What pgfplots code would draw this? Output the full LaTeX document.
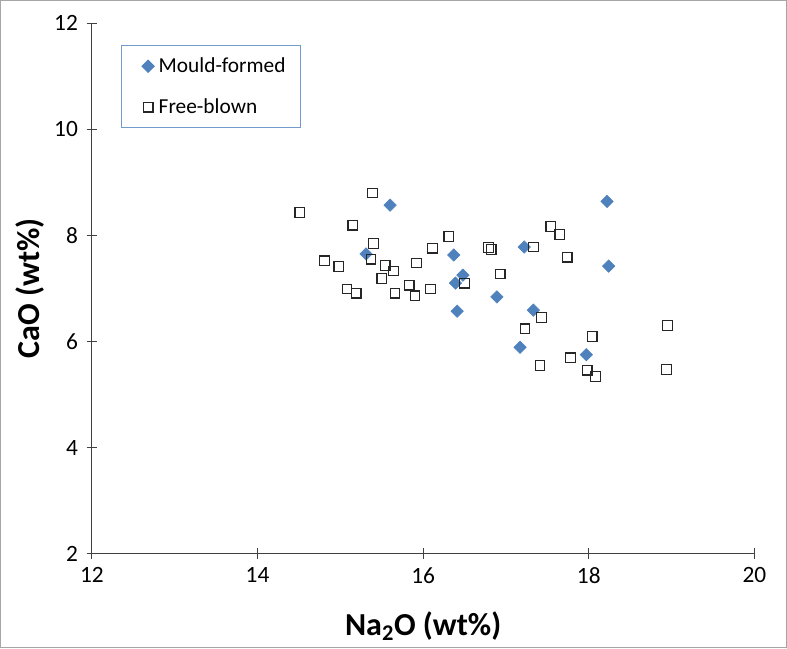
\documentclass[border=0pt]{standalone}
\usepackage{pgfplots}
\pgfplotsset{compat=1.18}
\usepackage{fontspec}
\setmainfont{Carlito}

\definecolor{mould}{RGB}{79,129,189}

\begin{document}
\begin{tikzpicture}
\begin{axis}[
    name=ax,
    scale only axis,
    width=496.5pt, height=397.5pt,
    xmin=12, xmax=20,
    ymin=2, ymax=12,
    xtick={12,14,...,20},
    ytick={2,4,...,12},
    axis x line=bottom,
    axis y line=left,
    axis line style={-, black!75, line width=0.8pt},
    tick style={black!75, line width=0.8pt},
    tick align=center,
    major tick length=8pt,
    minor tick num=0,
    /pgf/number format/assume math mode=true,
    ticklabel style={font=\fontsize{17.5}{20}\selectfont},
    xticklabel style={yshift=-3pt},
    yticklabel style={xshift=-3pt},
    xlabel={Na\textsubscript{2}O (wt\%)},
    ylabel={CaO (wt\%)},
    label style={font=\fontsize{24}{28}\selectfont\bfseries},
    xlabel style={at={(axis description cs:0.5,-0.137)}, anchor=center},
    ylabel style={at={(axis description cs:-0.094,0.5)}, anchor=center},
    clip=false,
    legend cell align=left,
    legend style={
        at={(axis description cs:0.044,0.958)}, anchor=north west,
        draw=mould!80, line width=0.6pt,
        font=\fontsize{16}{19}\selectfont,
        inner xsep=9pt, inner ysep=7pt,
        row sep=14pt,
    },
    legend image code/.code={
        \path (0pt,0pt) (16pt,0pt);
        \draw[#1] plot coordinates {(10.5pt,0pt)};
    },
]

% Mould-formed glasses
\addplot[only marks, mark=square*, mark size=3.3pt, draw=mould, fill=mould,
    mark options={rotate=45}]
    coordinates {
    (15.60,8.57) (15.31,7.65) (16.37,7.63) (16.48,7.25) (16.39,7.10)
    (16.41,6.57) (16.89,6.84) (18.22,8.64) (17.22,7.78) (18.24,7.42)
    (17.33,6.59) (17.17,5.89) (17.97,5.75)
    };

% Free-blown glasses
\addplot[only marks, mark=square, mark size=3.6pt, draw=black!85, line width=0.9pt,
    mark options={fill=white}]
    coordinates {
    (15.39,8.80) (14.51,8.43) (15.15,8.19) (15.40,7.85) (15.37,7.55)
    (14.81,7.52) (14.98,7.41) (15.54,7.43) (15.64,7.33) (15.50,7.19)
    (15.08,6.99) (15.19,6.91) (15.66,6.91) (15.83,7.06) (15.90,6.86)
    (16.09,6.99) (15.92,7.48) (16.11,7.76) (16.31,7.98) (16.50,7.10)
    (16.79,7.77) (16.82,7.73) (16.93,7.27)
    (17.54,8.17) (17.65,8.02) (17.33,7.78) (17.74,7.59) (17.43,6.45)
    (17.23,6.24) (18.95,6.30) (18.04,6.09) (17.78,5.69) (17.41,5.55)
    (17.98,5.46) (18.08,5.34) (18.94,5.47)
    };

\legend{Mould-formed, Free-blown}
\end{axis}
\draw[black!35, line width=0.8pt]
    ([xshift=-68.5pt,yshift=-70.5pt]ax.south west)
    rectangle ([xshift=24pt,yshift=17pt]ax.north east);
\end{tikzpicture}
\end{document}
